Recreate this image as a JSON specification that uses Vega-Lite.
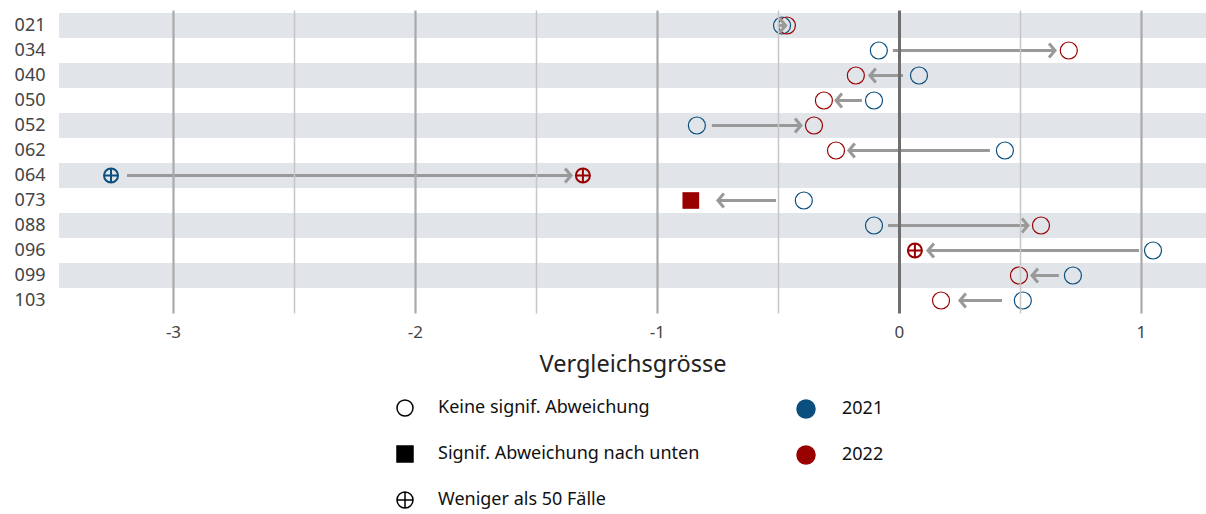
{
  "$schema": "https://vega.github.io/schema/vega-lite/v6.json",
  "autosize": "none",
  "width": 1147,
  "height": 303,
  "padding": {"left": 59, "top": 10, "right": 0, "bottom": 201},
  "config": {"font": "Noto Sans", "view": {"stroke": null}},
  "datasets": {
    "werte": [
      {"id": "021", "jahr": "2021", "wert": -0.483, "status": "Keine signif. Abweichung"},
      {"id": "021", "jahr": "2022", "wert": -0.463, "status": "Keine signif. Abweichung"},
      {"id": "034", "jahr": "2021", "wert": -0.083, "status": "Keine signif. Abweichung"},
      {"id": "034", "jahr": "2022", "wert": 0.702, "status": "Keine signif. Abweichung"},
      {"id": "040", "jahr": "2021", "wert": 0.083, "status": "Keine signif. Abweichung"},
      {"id": "040", "jahr": "2022", "wert": -0.178, "status": "Keine signif. Abweichung"},
      {"id": "050", "jahr": "2021", "wert": -0.103, "status": "Keine signif. Abweichung"},
      {"id": "050", "jahr": "2022", "wert": -0.31, "status": "Keine signif. Abweichung"},
      {"id": "052", "jahr": "2021", "wert": -0.835, "status": "Keine signif. Abweichung"},
      {"id": "052", "jahr": "2022", "wert": -0.351, "status": "Keine signif. Abweichung"},
      {"id": "062", "jahr": "2021", "wert": 0.438, "status": "Keine signif. Abweichung"},
      {"id": "062", "jahr": "2022", "wert": -0.26, "status": "Keine signif. Abweichung"},
      {"id": "064", "jahr": "2021", "wert": -3.256, "status": "Weniger als 50 Fälle"},
      {"id": "064", "jahr": "2022", "wert": -1.306, "status": "Weniger als 50 Fälle"},
      {"id": "073", "jahr": "2021", "wert": -0.393, "status": "Keine signif. Abweichung"},
      {"id": "073", "jahr": "2022", "wert": -0.86, "status": "Signif. Abweichung nach unten"},
      {"id": "088", "jahr": "2021", "wert": -0.103, "status": "Keine signif. Abweichung"},
      {"id": "088", "jahr": "2022", "wert": 0.587, "status": "Keine signif. Abweichung"},
      {"id": "096", "jahr": "2021", "wert": 1.05, "status": "Keine signif. Abweichung"},
      {"id": "096", "jahr": "2022", "wert": 0.066, "status": "Weniger als 50 Fälle"},
      {"id": "099", "jahr": "2021", "wert": 0.719, "status": "Keine signif. Abweichung"},
      {"id": "099", "jahr": "2022", "wert": 0.496, "status": "Keine signif. Abweichung"},
      {"id": "103", "jahr": "2021", "wert": 0.512, "status": "Keine signif. Abweichung"},
      {"id": "103", "jahr": "2022", "wert": 0.174, "status": "Keine signif. Abweichung"}
    ],
    "pfeile": [
      {"id": "021", "von": -0.5, "bis": -0.468},
      {"id": "034", "von": -0.025, "bis": 0.645},
      {"id": "040", "von": 0.017, "bis": -0.12},
      {"id": "050", "von": -0.153, "bis": -0.26},
      {"id": "052", "von": -0.773, "bis": -0.405},
      {"id": "062", "von": 0.376, "bis": -0.207},
      {"id": "064", "von": -3.19, "bis": -1.355},
      {"id": "073", "von": -0.508, "bis": -0.748},
      {"id": "088", "von": -0.045, "bis": 0.533},
      {"id": "096", "von": 0.992, "bis": 0.12},
      {"id": "099", "von": 0.661, "bis": 0.55},
      {"id": "103", "von": 0.426, "bis": 0.252}
    ]
  },
  "encoding": {
    "y": {
      "field": "id", "type": "nominal", "sort": "ascending",
      "scale": {"type": "band", "paddingInner": 0, "paddingOuter": 0.06, "align": 1},
      "axis": {"title": null, "domain": false, "ticks": false, "grid": false, "labelFontSize": 18, "labelColor": "#444444", "labelPadding": 14}
    }
  },
  "layer": [
    {
      "data": {"name": "pfeile"},
      "transform": [
        {"window": [{"op": "row_number", "as": "nr"}], "sort": [{"field": "id", "order": "ascending"}]},
        {"filter": "datum.nr % 2 === 1"}
      ],
      "mark": {"type": "rect", "color": "#e1e4e8"},
      "encoding": {
        "x": {
          "datum": -3.471, "type": "quantitative",
          "scale": {"domain": [-3.471, 1.269], "nice": false, "zero": false},
          "axis": {
            "values": [-3, -2.5, -2, -1.5, -1, -0.5, 0, 0.5, 1],
            "labelExpr": "datum.value % 1 === 0 ? replace(format(datum.value, 'd'), '\u2212', '-') : ''",
            "domain": false, "ticks": false, "grid": true,
            "gridColor": {"condition": [{"test": "datum.value === 0", "value": "#6e6e6e"}, {"test": "datum.value % 1 === 0", "value": "#aaaaaa"}], "value": "#c6c6c6"},
            "gridWidth": {"condition": [{"test": "datum.value === 0", "value": 3}, {"test": "datum.value % 1 === 0", "value": 2.2}], "value": 1.5},
            "labelFontSize": 17, "labelColor": "#444444", "labelPadding": 11,
            "title": "Vergleichsgrösse", "titleFontSize": 23.5, "titleFontWeight": "normal", "titleColor": "#222222", "titlePadding": 12,
            "zindex": 1
          }
        },
        "x2": {"datum": 1.269}
      }
    },
    {
      "data": {"name": "werte"},
      "mark": {"type": "point", "filled": false, "opacity": 1},
      "encoding": {
        "x": {"field": "wert", "type": "quantitative"},
        "shape": {
          "field": "status", "type": "nominal",
          "scale": {
            "domain": ["Keine signif. Abweichung", "Signif. Abweichung nach unten", "Weniger als 50 Fälle"],
            "range": [
              "circle",
              "M-1,-1H1V1H-1Z M-1,-0.875H1 M-1,-0.75H1 M-1,-0.625H1 M-1,-0.5H1 M-1,-0.375H1 M-1,-0.25H1 M-1,-0.125H1 M-1,0H1 M-1,0.125H1 M-1,0.25H1 M-1,0.375H1 M-1,0.5H1 M-1,0.625H1 M-1,0.75H1 M-1,0.875H1",
              "M1,0A1,1,0,1,1,-1,0A1,1,0,1,1,1,0Z M-1,0L1,0 M0,-1L0,1"
            ]
          },
          "legend": {
            "title": null, "orient": "none", "legendX": 337, "legendY": 389, "direction": "vertical",
            "symbolSize": 256, "labelFontSize": 18, "labelColor": "#111111", "labelOffset": 24, "rowPadding": 24, "labelLimit": 400,
            "symbolStrokeColor": "black", "symbolStrokeWidth": 1.5, "symbolOpacity": 1
          }
        },
        "color": {
          "field": "jahr", "type": "nominal",
          "scale": {"domain": ["2021", "2022"], "range": ["#0a4f7e", "#990000"]},
          "legend": {
            "title": null, "orient": "none", "legendX": 737, "legendY": 389, "direction": "vertical",
            "symbolType": "circle", "symbolSize": 324, "labelFontSize": 18, "labelColor": "#111111", "labelOffset": 26, "rowPadding": 22
          }
        },
        "fill": {
          "condition": {"test": "datum.status === 'Signif. Abweichung nach unten'", "field": "jahr", "type": "nominal", "scale": {"domain": ["2021", "2022"], "range": ["#0a4f7e", "#990000"]}, "legend": null},
          "value": "transparent"
        },
        "size": {
          "condition": [
            {"test": "datum.status === 'Weniger als 50 Fälle'", "value": 196},
            {"test": "datum.status === 'Signif. Abweichung nach unten'", "value": 240}
          ],
          "value": 289
        },
        "strokeWidth": {
          "condition": {"test": "datum.status === 'Weniger als 50 Fälle'", "value": 2},
          "value": 1.2
        }
      }
    },
    {
      "data": {"name": "pfeile"},
      "mark": {"type": "rule", "color": "#999999", "strokeWidth": 3},
      "encoding": {
        "x": {"field": "von", "type": "quantitative"},
        "x2": {"field": "bis"}
      }
    },
    {
      "data": {"name": "pfeile"},
      "transform": [{"filter": "datum.bis > datum.von"}],
      "mark": {"type": "point", "shape": "M-0.85,-1L0,0L-0.85,1", "filled": false, "size": 196, "stroke": "#999999", "strokeWidth": 3, "opacity": 1},
      "encoding": {"x": {"field": "bis", "type": "quantitative"}}
    },
    {
      "data": {"name": "pfeile"},
      "transform": [{"filter": "datum.bis < datum.von"}],
      "mark": {"type": "point", "shape": "M0.85,-1L0,0L0.85,1", "filled": false, "size": 196, "stroke": "#999999", "strokeWidth": 3, "opacity": 1},
      "encoding": {"x": {"field": "bis", "type": "quantitative"}}
    }
  ]
}
